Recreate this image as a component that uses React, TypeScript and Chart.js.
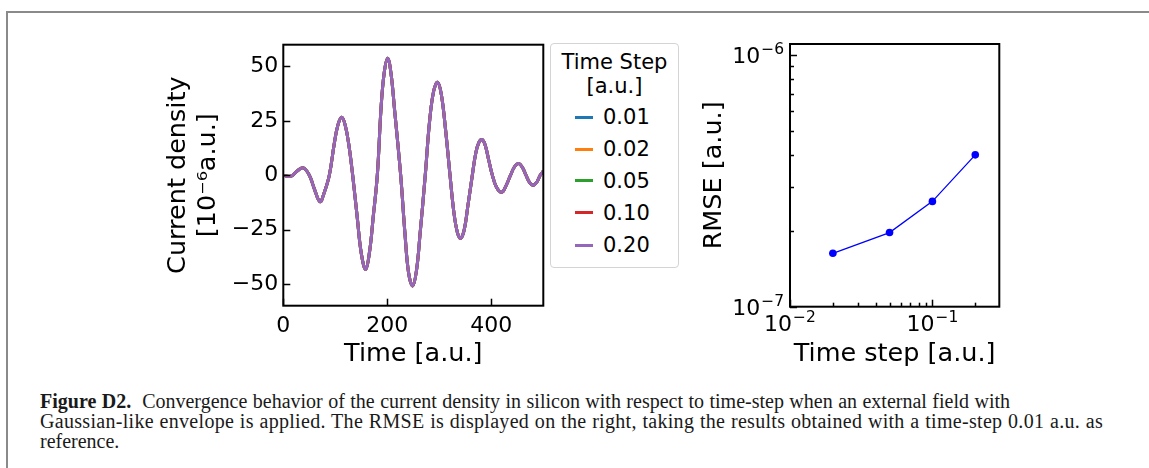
import React, { useEffect, useRef } from "react";
import { Chart, registerables } from "chart.js";

Chart.register(...registerables);

// ---------- data ----------
const STEP_LABELS = ["0.01", "0.02", "0.05", "0.10", "0.20"];
const STEP_COLORS = ["#1f77b4", "#ff7f0e", "#2ca02c", "#d62728", "#9467bd"];

const TIME = [
  0, 8, 16, 26, 37, 45, 52, 60, 70.6, 78, 88.5, 98, 105, 112.3, 119, 126, 133.4, 142, 150, 158.4,
  166, 173, 180.8, 188, 194, 200.7, 207, 214, 225.7, 234, 241, 248.8, 256, 263, 273, 281, 289,
  296.9, 304, 312, 320.6, 328, 335, 341, 348, 355, 363.5, 370, 376, 382, 388, 395, 402, 410, 420,
  428, 437, 445, 453, 460, 466.7, 474, 480.8, 488, 494, 500,
];
const CURRENT = [
  0, -0.5, -0.3, 1.8, 3.4, 2.0, -1.0, -6.5, -12.2, -8.5, 0, 14.5, 23, 26.6, 23, 14, 0, -19, -36,
  -43.3, -35, -19, 0, 31, 47, 53.8, 47, 30, 0, -27, -45, -50.9, -44, -27, 0, 24, 38.5, 42.7, 37,
  21, 0, -17, -26.5, -29, -25, -14, 0, 10, 15, 16.4, 14, 7, 0, -5.5, -7.8, -5, 0, 4, 5.4, 3.5, 0,
  -3.5, -4.6, -3, 0, 1.8,
];
const LEFT_X_TICKS = [0, 200, 400];
const LEFT_Y_TICKS = [-50, -25, 0, 25, 50];

const RMSE_STEPS = [0.02, 0.05, 0.1, 0.2];
const RMSE_VALUES = [1.63e-7, 1.97e-7, 2.62e-7, 4.01e-7];
const RIGHT_X_MAJOR = [0.01, 0.1];
const RIGHT_X_EXP = ["\u22122", "\u22121"];
const RIGHT_X_MINOR = [0.02, 0.03, 0.04, 0.05, 0.06, 0.07, 0.08, 0.09, 0.2];
const RIGHT_Y_MAJOR = [1e-7, 1e-6];
const RIGHT_Y_EXP = ["\u22127", "\u22126"];
const RIGHT_Y_MINOR = [2e-7, 3e-7, 4e-7, 5e-7, 6e-7, 7e-7, 8e-7, 9e-7];

const FAMILY = "'DejaVu Sans', sans-serif";
const TICK_SIZE = 22;

// ---------- plugin: box + inward ticks + power-of-ten labels ----------
function drawPow(ctx: any, exp: string, x: number, y: number, align: string) {
  ctx.font = `${TICK_SIZE}px ${FAMILY}`;
  const wb = ctx.measureText("10").width;
  ctx.font = `15.5px ${FAMILY}`;
  const we = ctx.measureText(exp).width;
  const total = wb + 1 + we;
  const x0 = align === "right" ? x - total : x - total / 2;
  ctx.fillStyle = "#000";
  ctx.textAlign = "left";
  ctx.textBaseline = "alphabetic";
  ctx.font = `${TICK_SIZE}px ${FAMILY}`;
  ctx.fillText("10", x0, y);
  ctx.font = `15.5px ${FAMILY}`;
  ctx.fillText(exp, x0 + wb + 1, y - 9);
}

const inTicksPlugin = {
  id: "inTicks",
  afterDraw(chart: any, _args: any, opts: any) {
    const { ctx, chartArea } = chart;
    const xs = chart.scales.x;
    const ys = chart.scales.y;
    ctx.save();
    ctx.strokeStyle = "#000";
    ctx.lineWidth = 1.5;
    const drawX = (vals: number[], len: number) => {
      vals.forEach((v) => {
        const px = Math.round(xs.getPixelForValue(v)) + 0.5;
        ctx.beginPath();
        ctx.moveTo(px, chartArea.bottom);
        ctx.lineTo(px, chartArea.bottom - len);
        ctx.stroke();
      });
    };
    const drawY = (vals: number[], len: number) => {
      vals.forEach((v) => {
        const py = Math.round(ys.getPixelForValue(v)) + 0.5;
        ctx.beginPath();
        ctx.moveTo(chartArea.left, py);
        ctx.lineTo(chartArea.left + len, py);
        ctx.stroke();
      });
    };
    drawX(opts.xMajor || [], 7);
    drawX(opts.xMinor || [], 4);
    drawY(opts.yMajor || [], 7);
    drawY(opts.yMinor || [], 4);
    ctx.lineWidth = 2;
    ctx.strokeRect(chartArea.left, chartArea.top, chartArea.right - chartArea.left, chartArea.bottom - chartArea.top);
    if (opts.xExp) {
      (opts.xMajor || []).forEach((v: number, i: number) => {
        drawPow(ctx, opts.xExp[i], xs.getPixelForValue(v), chartArea.bottom + 24, "center");
      });
    }
    if (opts.yExp) {
      (opts.yMajor || []).forEach((v: number, i: number) => {
        drawPow(ctx, opts.yExp[i], chartArea.left - 6, ys.getPixelForValue(v) + 8, "right");
      });
    }
    ctx.restore();
  },
};

const tickFont = { family: FAMILY, size: TICK_SIZE };
const titleFont = { family: FAMILY, size: 25.5, lineHeight: 1.18 };

function LeftChart() {
  const ref = useRef<HTMLCanvasElement>(null);
  useEffect(() => {
    const chart = new Chart(ref.current!, {
      type: "line",
      data: {
        datasets: STEP_LABELS.map((lab, i) => ({
          label: lab,
          data: TIME.map((t, j) => ({ x: t, y: CURRENT[j] })),
          borderColor: STEP_COLORS[i],
          backgroundColor: STEP_COLORS[i],
          borderWidth: 3,
          pointRadius: 0,
          tension: 0.4,
          fill: false,
          order: STEP_LABELS.length - 1 - i,
        })),
      },
      options: {
        responsive: false,
        animation: false,
        devicePixelRatio: 1,
        layout: { padding: { left: 0, right: 6.7, top: 24.7, bottom: 0 } },
        plugins: {
          legend: { display: false },
          tooltip: { enabled: false },
          inTicks: { xMajor: LEFT_X_TICKS, yMajor: LEFT_Y_TICKS },
        } as any,
        scales: {
          x: {
            type: "linear",
            min: 0,
            max: 500,
            grid: { display: false, drawTicks: false },
            border: { display: false },
            ticks: { font: tickFont, color: "#000", padding: 7, maxRotation: 0, autoSkip: false },
            afterBuildTicks: (s: any) => {
              s.ticks = LEFT_X_TICKS.map((v) => ({ value: v }));
            },
            afterFit: (s: any) => {
              s.height = 74.3;
            },
            title: { display: true, text: "Time [a.u.]", font: titleFont, color: "#000", padding: { top: 0, bottom: 11 } },
          },
          y: {
            type: "linear",
            min: -60,
            max: 60,
            grid: { display: false, drawTicks: false },
            border: { display: false },
            ticks: {
              font: tickFont,
              color: "#000",
              padding: 5,
              autoSkip: false,
              callback: (v: any) => (v < 0 ? "\u2212" + Math.abs(v) : String(v)),
            },
            afterBuildTicks: (s: any) => {
              s.ticks = LEFT_Y_TICKS.map((v) => ({ value: v }));
            },
            afterFit: (s: any) => {
              s.width = 133.3;
            },
            title: {
              display: true,
              text: ["Current density", "[10\u207B\u2076a.u.]"],
              font: titleFont,
              color: "#000",
              padding: { top: 13, bottom: 0 },
            },
          },
        },
      } as any,
      plugins: [inTicksPlugin],
    });
    return () => chart.destroy();
  }, []);
  return (
    <canvas
      ref={ref}
      width={400}
      height={360}
      style={{ position: "absolute", left: 150, top: 20, width: 400, height: 360 }}
    />
  );
}

function RightChart() {
  const ref = useRef<HTMLCanvasElement>(null);
  useEffect(() => {
    const chart = new Chart(ref.current!, {
      type: "line",
      data: {
        datasets: [
          {
            label: "RMSE",
            data: RMSE_STEPS.map((s, i) => ({ x: s, y: RMSE_VALUES[i] })),
            borderColor: "#0000ff",
            backgroundColor: "#0000ff",
            borderWidth: 1.3,
            pointRadius: 3.8,
            pointBorderWidth: 0,
            tension: 0,
            fill: false,
          },
        ],
      },
      options: {
        responsive: false,
        animation: false,
        devicePixelRatio: 1,
        layout: { padding: { left: 0, right: 7.7, top: 24, bottom: 0 } },
        plugins: {
          legend: { display: false },
          tooltip: { enabled: false },
          inTicks: {
            xMajor: RIGHT_X_MAJOR,
            xMinor: RIGHT_X_MINOR,
            xExp: RIGHT_X_EXP,
            yMajor: RIGHT_Y_MAJOR,
            yMinor: RIGHT_Y_MINOR,
            yExp: RIGHT_Y_EXP,
          },
        } as any,
        scales: {
          x: {
            type: "logarithmic",
            min: 0.01,
            max: 0.295,
            grid: { display: false, drawTicks: false },
            border: { display: false },
            ticks: { display: false },
            afterBuildTicks: (s: any) => {
              s.ticks = RIGHT_X_MAJOR.map((v) => ({ value: v }));
            },
            afterFit: (s: any) => {
              s.height = 73.3;
            },
            title: { display: true, text: "Time step [a.u.]", font: titleFont, color: "#000", padding: { top: 0, bottom: 11 } },
          },
          y: {
            type: "logarithmic",
            min: 1e-7,
            max: 1.105e-6,
            grid: { display: false, drawTicks: false },
            border: { display: false },
            ticks: { display: false },
            afterBuildTicks: (s: any) => {
              s.ticks = RIGHT_Y_MAJOR.map((v) => ({ value: v }));
            },
            afterFit: (s: any) => {
              s.width = 100;
            },
            title: { display: true, text: "RMSE [a.u.]", font: titleFont, color: "#000", padding: { top: 9, bottom: 0 } },
          },
        },
      } as any,
      plugins: [inTicksPlugin],
    });
    return () => chart.destroy();
  }, []);
  return (
    <canvas
      ref={ref}
      width={317}
      height={360}
      style={{ position: "absolute", left: 690, top: 20, width: 317, height: 360 }}
    />
  );
}

function Legend() {
  const rowCenters = [117.3, 149, 180.7, 212.7, 245];
  const lh = 26;
  return (
    <div>
      <div
        style={{
          position: "absolute",
          left: 550,
          top: 42.5,
          width: 127,
          height: 223,
          border: "1.3px solid #d4d4d4",
          borderRadius: 4,
          background: "#fff",
        }}
      />
      {["Time Step", "[a.u.]"].map((t, i) => (
        <div
          key={t}
          style={{
            position: "absolute",
            left: 550,
            width: 129,
            top: [61.7, 86][i] - lh / 2,
            height: lh,
            lineHeight: lh + "px",
            textAlign: "center",
            fontFamily: FAMILY,
            fontSize: 21,
            color: "#000",
            whiteSpace: "nowrap",
          }}
        >
          {t}
        </div>
      ))}
      {STEP_LABELS.map((lab, i) => (
        <div key={lab}>
          <div
            style={{
              position: "absolute",
              left: 575,
              width: 18,
              top: rowCenters[i] - 1.5,
              height: 3,
              background: STEP_COLORS[i],
            }}
          />
          <div
            style={{
              position: "absolute",
              left: 603,
              top: rowCenters[i] - lh / 2,
              height: lh,
              lineHeight: lh + "px",
              fontFamily: FAMILY,
              fontSize: 21,
              color: "#000",
              whiteSpace: "nowrap",
            }}
          >
            {lab}
          </div>
        </div>
      ))}
    </div>
  );
}

const CAPTION_LINES = [
  "Convergence behavior of the current density in silicon with respect to time-step when an external field with",
  "Gaussian-like envelope is applied. The RMSE is displayed on the right, taking the results obtained with a time-step 0.01 a.u. as",
  "reference.",
];

export default function App() {
  const capStyle: React.CSSProperties = {
    position: "absolute",
    left: 40,
    fontFamily: "'Liberation Serif', serif",
    fontSize: 20,
    lineHeight: "20px",
    color: "#1a1a1a",
    whiteSpace: "nowrap",
  };
  const just: React.CSSProperties = { textAlign: "justify", textAlignLast: "justify" as any };
  return (
    <div style={{ position: "absolute", left: 0, top: 0, width: 1149, height: 468, background: "#fff", overflow: "hidden" }}>
      <div
        style={{
          position: "absolute",
          left: 6,
          top: 11,
          width: 1143,
          height: 457,
          borderLeft: "2px solid #8a8a8a",
          borderTop: "2px solid #8a8a8a",
          boxSizing: "border-box",
        }}
      />
      <LeftChart />
      <Legend />
      <RightChart />
      <div style={{ ...capStyle, ...just, top: 391, width: 970 }}>
        <b>Figure D2.</b>&nbsp;&nbsp;{CAPTION_LINES[0]}
      </div>
      <div style={{ ...capStyle, ...just, top: 411, width: 1063, letterSpacing: "0.3px" }}>{CAPTION_LINES[1]}</div>
      <div style={{ ...capStyle, top: 431 }}>{CAPTION_LINES[2]}</div>
    </div>
  );
}
